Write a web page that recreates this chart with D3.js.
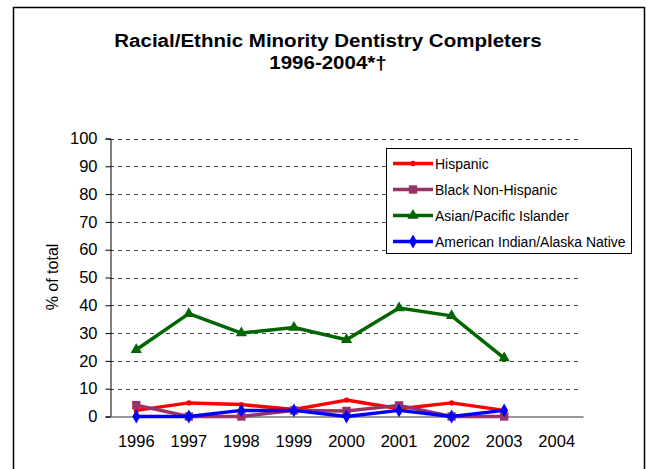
<!DOCTYPE html>
<html>
<head>
<meta charset="utf-8">
<script src="https://cdn.jsdelivr.net/npm/d3@7"></script>
<style>
html,body{margin:0;padding:0;background:#fff;}
svg{display:block;font-family:"Liberation Sans",Arial,sans-serif;}
</style>
</head>
<body>
<svg id="chart" width="646" height="469"></svg>
<script>
const years = ["1996","1997","1998","1999","2000","2001","2002","2003","2004"];
const yTicks = [0,10,20,30,40,50,60,70,80,90,100];
const hispanic = [2.2, 4.9, 4.3, 2.5, 5.9, 2.8, 4.9, 2.2];
const blackNonHispanic = [4.1, 0, 0, 2.2, 2.0, 4.0, 0, 0];
const asianPacific = [24, 37, 30, 32, 27.6, 39, 36.2, 21];
const amIndian = [0, 0, 2.2, 2.2, 0, 2.2, 0, 2.2];
const seriesNames = ["Hispanic","Black Non-Hispanic","Asian/Pacific Islander","American Indian/Alaska Native"];
const titleLines = ["Racial/Ethnic Minority Dentistry Completers","1996-2004*\u2020"];
const yLabel = "% of total";

const series = [
  {name: seriesNames[0], values: hispanic, color: "#ff0000", marker: "circle"},
  {name: seriesNames[1], values: blackNonHispanic, color: "#993366", marker: "square"},
  {name: seriesNames[2], values: asianPacific, color: "#006600", marker: "triangle"},
  {name: seriesNames[3], values: amIndian, color: "#0000ff", marker: "diamond"}
];

const svg = d3.select("#chart");

// outer frame (left, top, right)
svg.append("path")
  .attr("d", "M13.5,469 V7.5 H644.5 V469")
  .attr("fill", "none").attr("stroke", "#000").attr("stroke-width", 1.5);

// title
const titleG = svg.append("g").attr("transform", "translate(328,0) scale(1.08,1)");
titleLines.forEach((t, i) => {
  titleG.append("text").attr("x", 0).attr("y", 47.2 + i * 22)
    .attr("text-anchor", "middle").attr("font-size", 19).attr("font-weight", "bold").text(t);
});

const plotLeft = 110, plotRight = 583, plotTop = 138.5, plotBottom = 416.5;
const x = d3.scaleBand().domain(years).range([plotLeft, plotRight]);
const y = d3.scaleLinear().domain([0, 100]).range([plotBottom, plotTop]);
const cx = d => x(d) + x.bandwidth() / 2;

// gridlines
svg.append("g").selectAll("line").data(yTicks.filter(t => t > 0)).join("line")
  .attr("x1", plotLeft).attr("x2", plotRight - 1)
  .attr("y1", d => Math.round(y(d)) + 0.5).attr("y2", d => Math.round(y(d)) + 0.5)
  .attr("stroke", "#444").attr("stroke-width", 1).attr("stroke-dasharray", "4,4");

// y axis
const yAxis = svg.append("g").attr("transform", `translate(${plotLeft + 0.5},0)`)
  .call(d3.axisLeft(y).tickValues(yTicks).tickSize(5).tickPadding(8));
yAxis.select(".domain").attr("stroke", "#000");
yAxis.selectAll(".tick line").attr("stroke", "#000");
yAxis.selectAll(".tick text").attr("font-size", 16.5).attr("font-family", "Liberation Sans, Arial, sans-serif").attr("fill", "#000");

// x axis
const xAxis = svg.append("g").attr("transform", `translate(0,${plotBottom})`)
  .call(d3.axisBottom(x).tickSize(0).tickPadding(19));
xAxis.select(".domain").attr("stroke", "#777").attr("stroke-width", 1.5);
xAxis.selectAll(".tick text").attr("font-size", 16.5).attr("font-family", "Liberation Sans, Arial, sans-serif").attr("fill", "#000");

// y label
svg.append("text").attr("transform", "translate(58,277) rotate(-90)")
  .attr("text-anchor", "middle").attr("font-size", 16).text(yLabel);

function markerPath(type) {
  switch (type) {
    case "circle": return d3.symbol(d3.symbolCircle, 22)();
    case "square": return d3.symbol(d3.symbolSquare, 70)();
    case "triangle": return d3.symbol(d3.symbolTriangle, 55)();
    case "diamond": return d3.symbol(d3.symbolDiamond, 55)();
  }
}

const line = d3.line().x((d, i) => cx(years[i])).y(d => y(d));

series.forEach(s => {
  const g = svg.append("g");
  g.append("path").datum(s.values).attr("d", line)
    .attr("fill", "none").attr("stroke", s.color).attr("stroke-width", 3.5)
    .attr("stroke-linejoin", "round");
  g.selectAll("path.m").data(s.values).join("path").attr("class", "m")
    .attr("transform", (d, i) => `translate(${cx(years[i])},${y(d)})`)
    .attr("d", markerPath(s.marker)).attr("fill", s.color);
});

// legend
const lg = svg.append("g");
lg.append("rect").attr("x", 386.5).attr("y", 148.5).attr("width", 245).attr("height", 105)
  .attr("fill", "#fff").attr("stroke", "#000").attr("stroke-width", 1);
const legendY = d3.scalePoint().domain(seriesNames).range([163.5, 241.5]);
series.forEach(s => {
  const yy = legendY(s.name);
  lg.append("line").attr("x1", 393).attr("x2", 433).attr("y1", yy).attr("y2", yy)
    .attr("stroke", s.color).attr("stroke-width", 3.5);
  lg.append("path").attr("transform", `translate(413,${yy})`).attr("d", markerPath(s.marker)).attr("fill", s.color);
  lg.append("text").attr("x", 435).attr("y", yy + 5).attr("font-size", 14).text(s.name);
});
</script>
</body>
</html>
